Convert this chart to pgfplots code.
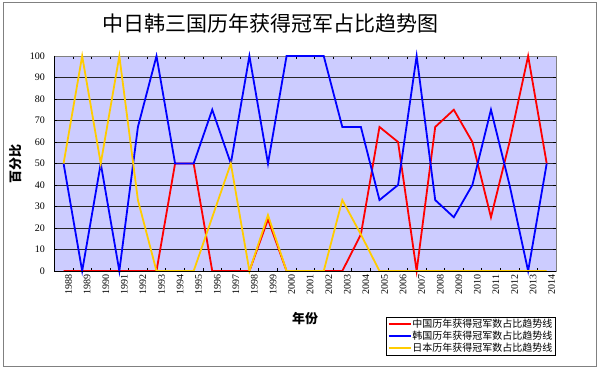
\documentclass[border=0pt]{standalone}
\usepackage{fontspec}
\usepackage{pgfplots}
\usepackage{pgfplotstable}
\pgfplotsset{compat=1.18}
\setmainfont{Liberation Serif}
\newfontfamily\cjk{Noto Sans CJK SC}
\definecolor{cnred}{RGB}{255,0,0}
\definecolor{krblue}{RGB}{0,0,255}
\definecolor{jpyellow}{RGB}{255,204,0}
\definecolor{plotbg}{RGB}{204,204,255}
\definecolor{framegray}{RGB}{128,128,128}

\pgfplotstableread{
year cn kr jp
1988 0 50 50
1989 0 0 100
1990 0 50 50
1991 0 0 100
1992 0 67 33
1993 0 100 0
1994 50 50 0
1995 50 50 0
1996 0 75 25
1997 0 50 50
1998 0 100 0
1999 24 50 26
2000 0 100 0
2001 0 100 0
2002 0 100 0
2003 0 67 33
2004 17 67 17
2005 67 33 0
2006 60 40 0
2007 0 100 0
2008 67 33 0
2009 75 25 0
2010 60 40 0
2011 25 75 0
2012 60 40 0
2013 100 0 0
2014 50 50 0
}\datatable

\begin{document}
\begin{tikzpicture}
\useasboundingbox (0,0) rectangle (600bp,371bp);
\fill[white] (0,0) rectangle (600bp,371bp);
\draw[framegray, line width=1bp] (3bp,4bp) rectangle (596bp,368bp);
\begin{axis}[
  at={(54.3bp,100bp)}, anchor=south west,
  scale only axis, width=501.7bp, height=215bp,
  xmin=1987.5, xmax=2014.5, ymin=0, ymax=100,
  clip=false,
  axis background/.style={fill=plotbg},
  axis line style={draw=framegray, line width=0.8bp},
  xtick={1987.5,1988.5,1989.5,1990.5,1991.5,1992.5,1993.5,1994.5,1995.5,1996.5,1997.5,1998.5,1999.5,2000.5,2001.5,2002.5,2003.5,2004.5,2005.5,2006.5,2007.5,2008.5,2009.5,2010.5,2011.5,2012.5,2013.5,2014.5},
  x tick label as interval,
  xticklabels={1988,1989,1990,1991,1992,1993,1994,1995,1996,1997,1998,1999,2000,2001,2002,2003,2004,2005,2006,2007,2008,2009,2010,2011,2012,2013,2014},
  ytick={0,10,...,100},
  tick align=inside,
  major tick length=3bp,
  tick style={black, line width=0.6bp},
  ymajorgrids,
  grid style={black!85, line width=0.9bp},
  /pgf/number format/assume math mode=true,
  ticklabel style={font=\fontsize{10bp}{12bp}\selectfont},
  xticklabel style={rotate=90, anchor=east, yshift=-5bp},
  yticklabel style={xshift=-6bp},
  title={中日韩三国历年获得冠军占比趋势图},
  title style={at={(rel axis cs:0.43,1.121)}, anchor=center, font=\cjk\fontsize{21bp}{24bp}\selectfont},
  xlabel={年份},
  xlabel style={at={(rel axis cs:0.5,-0.223)}, anchor=center, font=\cjk\bfseries\fontsize{13bp}{15bp}\selectfont},
  ylabel={百分比},
  ylabel style={at={(rel axis cs:-0.078,0.5)}, anchor=center, font=\cjk\bfseries\fontsize{13bp}{15bp}\selectfont},
  legend style={at={(rel axis cs:0.661,-0.214)}, anchor=north west, draw=black, fill=white,
    font=\cjk\fontsize{10bp}{12bp}\selectfont, inner xsep=1.5bp, inner ysep=1bp, row sep=0bp,
    nodes={inner sep=1bp}},
  legend cell align=left,
  legend image code/.code={\draw[#1] (0bp,0bp) -- (22bp,0bp);},
]
\addplot[cnred, line width=1.8bp] table[x=year, y=cn] {\datatable};
\addlegendentry{中国历年获得冠军数占比趋势线}
\addplot[krblue, line width=1.8bp] table[x=year, y=kr] {\datatable};
\addlegendentry{韩国历年获得冠军数占比趋势线}
\addplot[jpyellow, line width=1.8bp] table[x=year, y=jp] {\datatable};
\addlegendentry{日本历年获得冠军数占比趋势线}
\draw[black, line width=0.8bp] (rel axis cs:0,1) -- (rel axis cs:0,0) -- (rel axis cs:1,0);
\end{axis}
\end{tikzpicture}
\end{document}
